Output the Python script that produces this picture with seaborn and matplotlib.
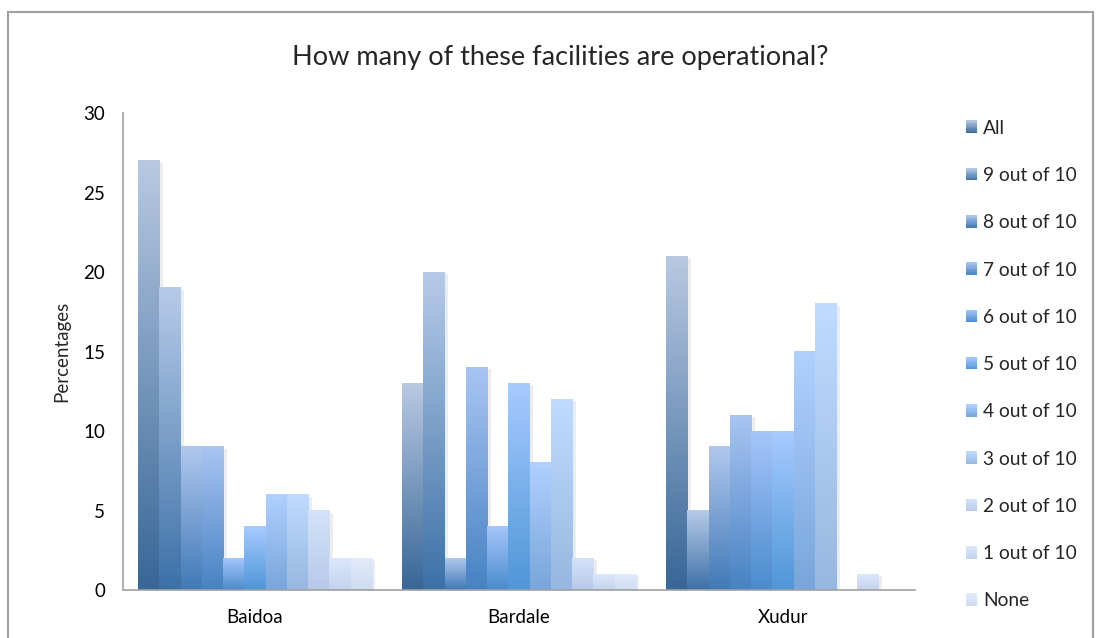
import numpy as np
import pandas as pd
import matplotlib
matplotlib.use("Agg")
import matplotlib.pyplot as plt
import matplotlib.colors as mcolors
from matplotlib.patches import Patch, Rectangle
from matplotlib.legend_handler import HandlerBase
import matplotlib.patheffects as pe
import seaborn as sns

towns = ["Baidoa", "Bardale", "Xudur"]
series = ["All", "9 out of 10", "8 out of 10", "7 out of 10", "6 out of 10",
          "5 out of 10", "4 out of 10", "3 out of 10", "2 out of 10",
          "1 out of 10", "None"]
baidoa = [27, 19, 9, 9, 2, 4, 6, 6, 5, 2, 2]
bardale = [13, 20, 2, 14, 4, 13, 8, 12, 2, 1, 1]
xudur = [21, 5, 9, 11, 10, 10, 15, 18, 0, 1, 0]
yticks = [0, 5, 10, 15, 20, 25, 30]

bottom_colors = ["#376697", "#3c71a7", "#4079b6", "#4782c3", "#4a8bcd",
                 "#4f96d8", "#78a6da", "#98b7e0", "#b6c9e8", "#c3d3ee", "#cfdbf1"]
top_colors = ["#b9c9e2", "#b7cbe9", "#b1c8ee", "#a9c5f2", "#a6c6fa",
              "#a7cbff", "#b1d0ff", "#c0dbff", "#d3e3fa", "#dbe7fb", "#e1ebfb"]

rows = []
for town, vals in zip(towns, [baidoa, bardale, xudur]):
    for s, v in zip(series, vals):
        rows.append({"town": town, "series": s, "value": v})
df = pd.DataFrame(rows)

sns.set_theme(style="white")
plt.rcParams["font.family"] = ["Lato", "DejaVu Sans"]

fig = plt.figure(figsize=(11, 6.38), dpi=100)
ax = fig.add_axes([123/1100, 1-590/638, 792/1100, 477/638])

sns.barplot(data=df, x="town", y="value", hue="series", hue_order=series,
            order=towns, width=0.886, ax=ax, legend=False,
            palette=bottom_colors, saturation=1, errorbar=None)

ax.set_ylim(0, 30)
ax.set_xlim(-0.5, 2.5)


def blend(i, t):
    c0 = np.array(mcolors.to_rgb(bottom_colors[i]))
    c1 = np.array(mcolors.to_rgb(top_colors[i]))
    return c0 * (1 - t) + c1 * t


for i, cont in enumerate(ax.containers):
    t = np.linspace(0, 1, 256)[:, None]
    c0 = np.array(mcolors.to_rgb(bottom_colors[i]))
    c1 = np.array(mcolors.to_rgb(top_colors[i]))
    grad = (c0[None, :] * (1 - t) + c1[None, :] * t)[:, None, :]
    for bar in cont:
        h = bar.get_height()
        x0 = bar.get_x()
        w = bar.get_width()
        bar.set_facecolor("none")
        bar.set_edgecolor("none")
        if h <= 0:
            continue
        sh = Rectangle((x0, 0), w, h, facecolor="none", edgecolor="none",
                       zorder=1.5,
                       path_effects=[pe.SimplePatchShadow(offset=(2.5, -1.5),
                                                          shadow_rgbFace="#b0b0b0",
                                                          alpha=0.22)])
        ax.add_patch(sh)
        ax.imshow(grad, extent=[x0, x0 + w, 0, h], origin="lower",
                  aspect="auto", zorder=2 + i * 0.01, interpolation="bilinear")

ax.set_xlim(-0.5, 2.5)
ax.set_ylim(0, 30)

for sp in ["top", "right"]:
    ax.spines[sp].set_visible(False)
for sp in ["left", "bottom"]:
    ax.spines[sp].set_color("#a0a0a0")
    ax.spines[sp].set_linewidth(1.2)
ax.set_yticks(yticks)
ax.tick_params(axis="both", length=0, colors="black")
ax.tick_params(axis="y", pad=13, labelsize=13.5)
ax.tick_params(axis="x", pad=14, labelsize=13.5)
ax.set_xlabel("")
ax.set_ylabel("Percentages", fontsize=13.5, labelpad=9)
ax.grid(False)

fig.text(0.5 + 10/1100, 1 - 58/638, "How many of these facilities are operational?",
         ha="center", va="center", fontsize=19.5)


class GradHandler(HandlerBase):
    def create_artists(self, legend, orig_handle, xdescent, ydescent,
                       width, height, fontsize, trans):
        i = orig_handle.idx
        n = 10
        arts = []
        for k in range(n):
            col = blend(i, (k + 0.5) / n)
            r = Rectangle((-xdescent, -ydescent + height * k / n), width,
                          height / n + 0.3, facecolor=col, edgecolor="none",
                          transform=trans)
            arts.append(r)
        return arts


handles = []
for i, s in enumerate(series):
    p = Patch(facecolor=bottom_colors[i], edgecolor="none", label=s)
    p.idx = i
    handles.append(p)
fig.legend(handles=handles, loc="upper left", bbox_to_anchor=(958/1100, 1 - 112/638),
           frameon=False, fontsize=13.8, handlelength=0.6, handleheight=0.6,
           handletextpad=0.3, labelspacing=1.58, borderaxespad=0,
           handler_map={Patch: GradHandler()})

fig.add_artist(Rectangle((8/1100, -0.05), 1085/1100, 1.05 - 12/638,
                         transform=fig.transFigure, facecolor="none",
                         edgecolor="#a0a0a0", linewidth=1.5))

fig.savefig("out.png", dpi=100)
